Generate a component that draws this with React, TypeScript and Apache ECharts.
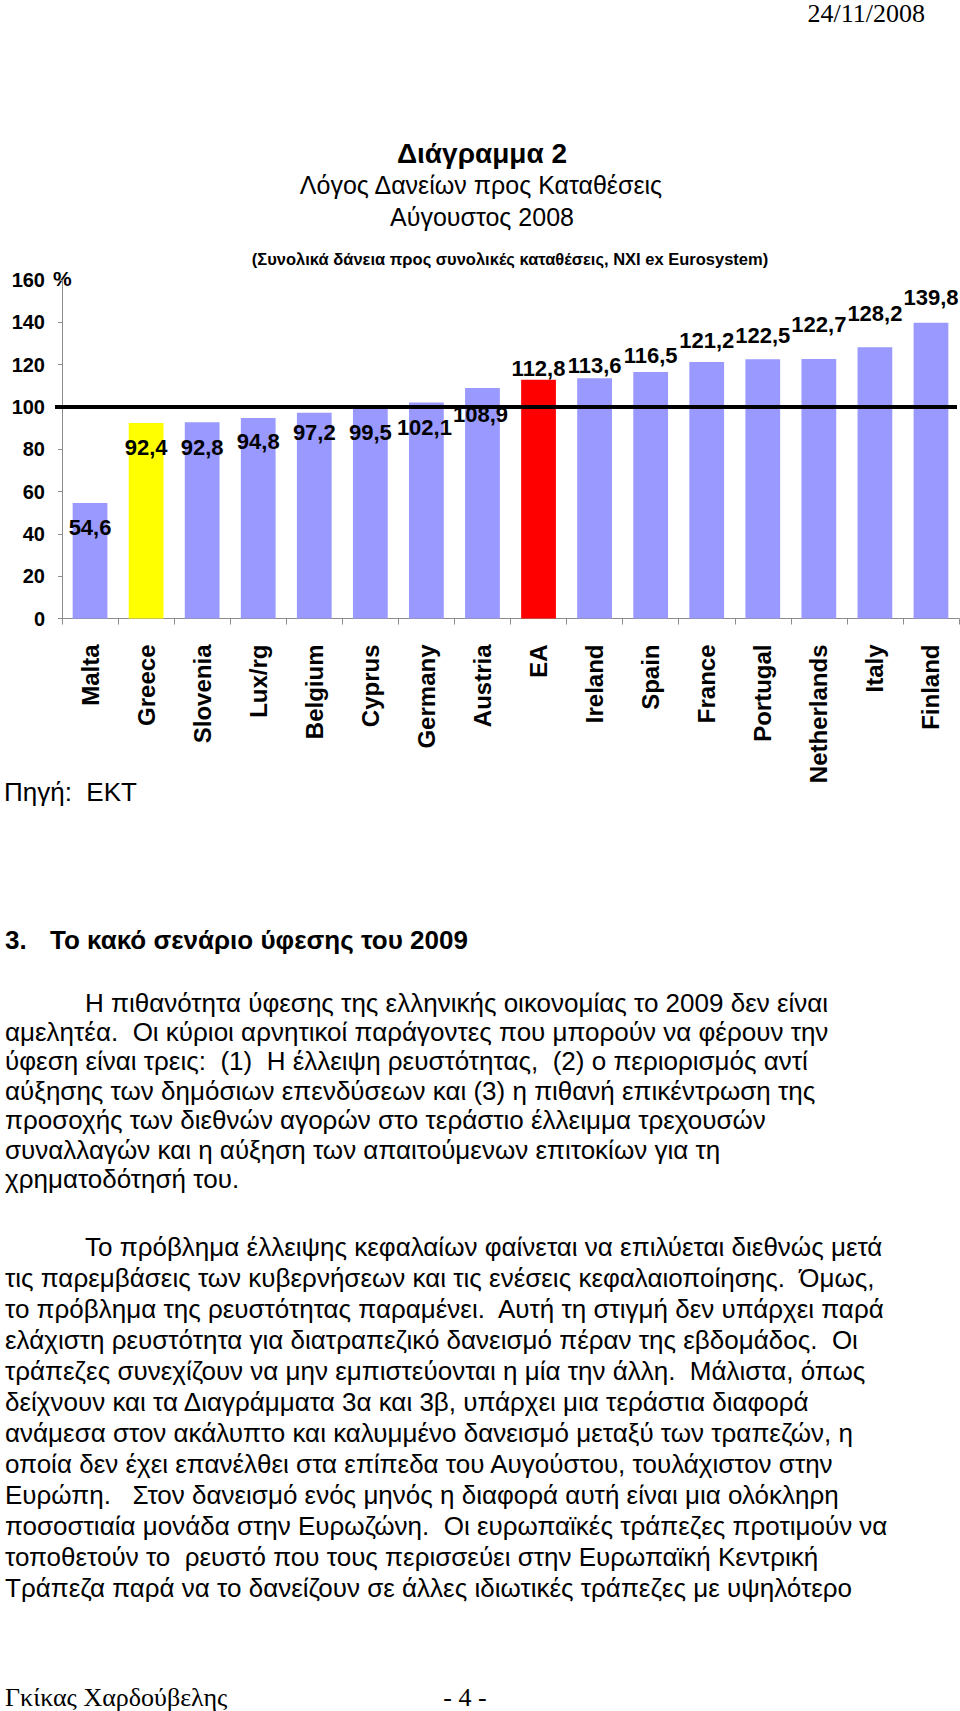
import React, { useEffect, useRef } from "react";
import * as echarts from "echarts";

// ---------- data ----------
const categories = [
  "Malta", "Greece", "Slovenia", "Lux/rg", "Belgium", "Cyprus", "Germany", "Austria",
  "EA", "Ireland", "Spain", "France", "Portugal", "Netherlands", "Italy", "Finland",
];
const loanToDepositRatio = [
  54.6, 92.4, 92.8, 94.8, 97.2, 99.5, 102.1, 108.9,
  112.8, 113.6, 116.5, 121.2, 122.5, 122.7, 128.2, 139.8,
];
const yMin = 0;
const yMax = 160;
const yStep = 20;
const referenceLevel = 100;
const highlighted: Record<string, string> = { Greece: "#FFFF00", EA: "#FF0000" };

const titleLines = ["Διάγραμμα 2", "Λόγος Δανείων προς Καταθέσεις", "Αύγουστος 2008"];
const subtitle = "(Συνολικά δάνεια προς συνολικές καταθέσεις, ΝΧΙ ex Eurosystem)";
const sourceNote = "Πηγή:  ΕΚΤ";
const headerDate = "24/11/2008";
const sectionNumber = "3.";
const sectionTitle = "Το κακό σενάριο ύφεσης του 2009";
const paragraph1 = [
  "Η πιθανότητα ύφεσης της ελληνικής οικονομίας το 2009 δεν είναι",
  "αμελητέα.  Οι κύριοι αρνητικοί παράγοντες που μπορούν να φέρουν την",
  "ύφεση είναι τρεις:  (1)  Η έλλειψη ρευστότητας,  (2) ο περιορισμός αντί",
  "αύξησης των δημόσιων επενδύσεων και (3) η πιθανή επικέντρωση της",
  "προσοχής των διεθνών αγορών στο τεράστιο έλλειμμα τρεχουσών",
  "συναλλαγών και η αύξηση των απαιτούμενων επιτοκίων για τη",
  "χρηματοδότησή του.",
];
const paragraph2 = [
  "Το πρόβλημα έλλειψης κεφαλαίων φαίνεται να επιλύεται διεθνώς μετά",
  "τις παρεμβάσεις των κυβερνήσεων και τις ενέσεις κεφαλαιοποίησης.  Όμως,",
  "το πρόβλημα της ρευστότητας παραμένει.  Αυτή τη στιγμή δεν υπάρχει παρά",
  "ελάχιστη ρευστότητα για διατραπεζικό δανεισμό πέραν της εβδομάδος.  Οι",
  "τράπεζες συνεχίζουν να μην εμπιστεύονται η μία την άλλη.  Μάλιστα, όπως",
  "δείχνουν και τα Διαγράμματα 3α και 3β, υπάρχει μια τεράστια διαφορά",
  "ανάμεσα στον ακάλυπτο και καλυμμένο δανεισμό μεταξύ των τραπεζών, η",
  "οποία δεν έχει επανέλθει στα επίπεδα του Αυγούστου, τουλάχιστον στην",
  "Ευρώπη.   Στον δανεισμό ενός μηνός η διαφορά αυτή είναι μια ολόκληρη",
  "ποσοστιαία μονάδα στην Ευρωζώνη.  Οι ευρωπαϊκές τράπεζες προτιμούν να",
  "τοποθετούν το  ρευστό που τους περισσεύει στην Ευρωπαϊκή Κεντρική",
  "Τράπεζα παρά να το δανείζουν σε άλλες ιδιωτικές τράπεζες με υψηλότερο",
];
const footerAuthor = "Γκίκας Χαρδούβελης";
const footerPage = "- 4 -";

// ---------- styling (label nudges relative to bar top, px) ----------
const labelNudges: [number, number][] = [
  [0, 25], [0, 24], [0, 25], [0, 24], [0, 20], [0, 25], [-2, 25], [-2, 26],
  [0, -11], [0, -13], [0, -17], [0, -22], [0, -24], [0, -34], [0, -34], [0, -25],
];
const BAR_COLOR = "#9999FF";
const NARROW = "'Liberation Sans Narrow', 'Arial Narrow', 'Liberation Sans', Arial, sans-serif";
const SANS = "'Liberation Sans', Arial, sans-serif";
const SERIF = "'Liberation Serif', 'Times New Roman', serif";

type TextOpts = {
  size: number;
  family: string;
  weight?: string;
  align?: "left" | "center" | "right";
};

function textEl(text: string, x: number, y: number, o: TextOpts) {
  const align = o.align ?? "left";
  return {
    type: "text",
    x,
    y,
    silent: true,
    style: {
      text,
      fill: "#000",
      fontSize: o.size,
      fontFamily: o.family,
      fontWeight: o.weight ?? "normal",
      textAlign: align,
      align,
      textVerticalAlign: "middle",
      verticalAlign: "middle",
    },
  };
}

export default function App() {
  const ref = useRef<HTMLDivElement>(null);

  useEffect(() => {
    if (!ref.current) return;
    const chart = echarts.init(ref.current, undefined, { renderer: "svg" });

    const graphics: any[] = [];
    graphics.push(textEl(headerDate, 925, 13, { size: 26, family: SERIF, align: "right" }));
    graphics.push(textEl(titleLines[0], 482, 153, { size: 28, family: NARROW, weight: "bold", align: "center" }));
    graphics.push(textEl(titleLines[1], 481, 185, { size: 25, family: NARROW, align: "center" }));
    graphics.push(textEl(titleLines[2], 482, 217, { size: 25, family: NARROW, align: "center" }));
    graphics.push(textEl(subtitle, 510, 259, { size: 16.5, family: NARROW, weight: "bold", align: "center" }));
    graphics.push(textEl("%", 53, 278, { size: 21, family: NARROW, weight: "bold" }));
    graphics.push(textEl(sourceNote, 4, 792, { size: 26, family: NARROW }));
    graphics.push(textEl(sectionNumber, 5, 940, { size: 26, family: SANS, weight: "bold" }));
    graphics.push(textEl(sectionTitle, 50, 940, { size: 26, family: SANS, weight: "bold" }));
    paragraph1.forEach((line, i) => {
      graphics.push(textEl(line, i === 0 ? 85 : 5, 1002.5 + i * 29.4, { size: 26, family: SANS }));
    });
    paragraph2.forEach((line, i) => {
      graphics.push(textEl(line, i === 0 ? 85 : 5, 1247 + i * 31.0, { size: 26, family: SANS }));
    });
    graphics.push(textEl(footerAuthor, 5, 1697, { size: 26, family: SERIF }));
    graphics.push(textEl(footerPage, 465, 1697, { size: 26, family: SERIF, align: "center" }));

    chart.setOption({
      animation: false,
      backgroundColor: "#ffffff",
      grid: { left: 62, right: 1, top: 280, height: 338.5, containLabel: false },
      xAxis: {
        type: "category",
        data: categories,
        axisLine: { show: true, lineStyle: { color: "#8c8c8c", width: 1 } },
        axisTick: { show: true, length: 6, lineStyle: { color: "#8c8c8c" } },
        axisLabel: {
          interval: 0,
          rotate: 90,
          margin: 26,
          color: "#000",
          fontFamily: SANS,
          fontWeight: "bold",
          fontSize: 24,
        },
      },
      yAxis: {
        type: "value",
        min: yMin,
        max: yMax,
        interval: yStep,
        splitLine: { show: false },
        axisLine: { show: true, lineStyle: { color: "#8c8c8c", width: 1 } },
        axisTick: { show: true, length: 4, lineStyle: { color: "#8c8c8c" } },
        axisLabel: {
          margin: 17,
          color: "#000",
          fontFamily: NARROW,
          fontWeight: "bold",
          fontSize: 20,
        },
      },
      series: [
        {
          type: "bar",
          barWidth: "62%",
          data: loanToDepositRatio.map((v, i) => ({
            value: v,
            itemStyle: { color: highlighted[categories[i]] ?? BAR_COLOR },
            label: { offset: labelNudges[i] },
          })),
          label: {
            show: true,
            position: "top",
            distance: 0,
            align: "center",
            verticalAlign: "middle",
            color: "#000",
            fontFamily: NARROW,
            fontWeight: "bold",
            fontSize: 22,
            formatter: (p: any) => String(p.value).replace(".", ","),
          },
          emphasis: { disabled: true },
        },
      ],
      graphic: graphics,
    });

    // Reference line at 100 %, positioned through the value axis scale.
    const refY = chart.convertToPixel({ yAxisIndex: 0 }, referenceLevel) as number;
    chart.setOption({
      graphic: [
        ...graphics,
        {
          type: "line",
          silent: true,
          z: 100,
          shape: { x1: 55, y1: refY, x2: 957, y2: refY },
          style: { stroke: "#000", lineWidth: 4 },
        },
      ],
    });

    return () => chart.dispose();
  }, []);

  return (
    <div
      ref={ref}
      style={{ position: "absolute", left: 0, top: 0, width: 960, height: 1711, background: "#fff" }}
    />
  );
}
